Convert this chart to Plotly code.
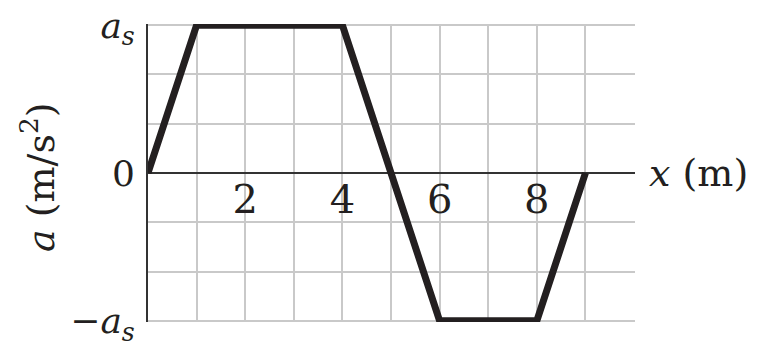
import plotly.graph_objects as go

# posición (m) y aceleración en unidades de a_s
x_m = [0, 1, 4, 5, 6, 8, 9]
a_rel = [0, 1, 1, 0, -1, -1, 0]

x_ticks = [2, 4, 6, 8]
y_ticks = [-1, 0, 1]
y_ticktext = ["\u2212<i>a<sub>s</sub></i>", "0", "<i>a<sub>s</sub></i>"]

ink = "#231f20"
grid = "#c9c9c9"
serif = "DejaVu Serif"
fsize = 38

fig = go.Figure()

fig.add_trace(go.Scatter(
    x=x_m, y=a_rel,
    mode="lines",
    line=dict(color=ink, width=7),
    cliponaxis=False,
    showlegend=False,
    hoverinfo="skip",
))

# etiquetas del eje x justo debajo de la línea cero
fig.update_xaxes(
    range=[0, 10.02],
    anchor="free", position=0.505,
    tickvals=x_ticks,
    ticks="",
    tickfont=dict(family=serif, size=40, color=ink),
    showgrid=True, gridcolor=grid, gridwidth=1.5,
    minor=dict(dtick=1, showgrid=True, gridcolor=grid, gridwidth=1.5),
    showline=False, zeroline=False, automargin=False,
)

fig.update_yaxes(
    range=[-1.008, 1.008],
    tickvals=y_ticks, ticktext=y_ticktext,
    ticks="outside", ticklen=4, tickcolor="rgba(0,0,0,0)",
    tickfont=dict(family=serif, size=36, color=ink),
    ticklabeloverflow="allow",
    showgrid=True, gridcolor=grid, gridwidth=1.5,
    minor=dict(dtick=1/3, tick0=0, showgrid=True, gridcolor=grid, gridwidth=1.5),
    zeroline=True, zerolinecolor="#333333", zerolinewidth=2,
    showline=True, linecolor="#333333", linewidth=2,
    automargin=False,
)

# título del eje y (vertical) y del eje x (a la derecha de la línea cero)
fig.add_annotation(
    xref="paper", yref="y", x=0, y=0,
    xanchor="center", yanchor="middle", xshift=-110, yshift=-4,
    textangle=-90,
    text="<i>a</i> (m/s<sup>2</sup>)", showarrow=False,
    font=dict(family=serif, size=fsize, color=ink),
)
fig.add_annotation(
    xref="paper", yref="y", x=1, y=0,
    xanchor="left", yanchor="middle", xshift=12,
    text="<i>x</i> (m)", showarrow=False,
    font=dict(family=serif, size=fsize, color=ink),
)

# la página añade 8 px de margen al cuerpo: se descuenta aquí
fig.update_layout(
    width=749, height=333,
    margin=dict(l=140, r=122, t=16, b=19),
    plot_bgcolor="white", paper_bgcolor="white",
)

fig.write_html("out.html")
